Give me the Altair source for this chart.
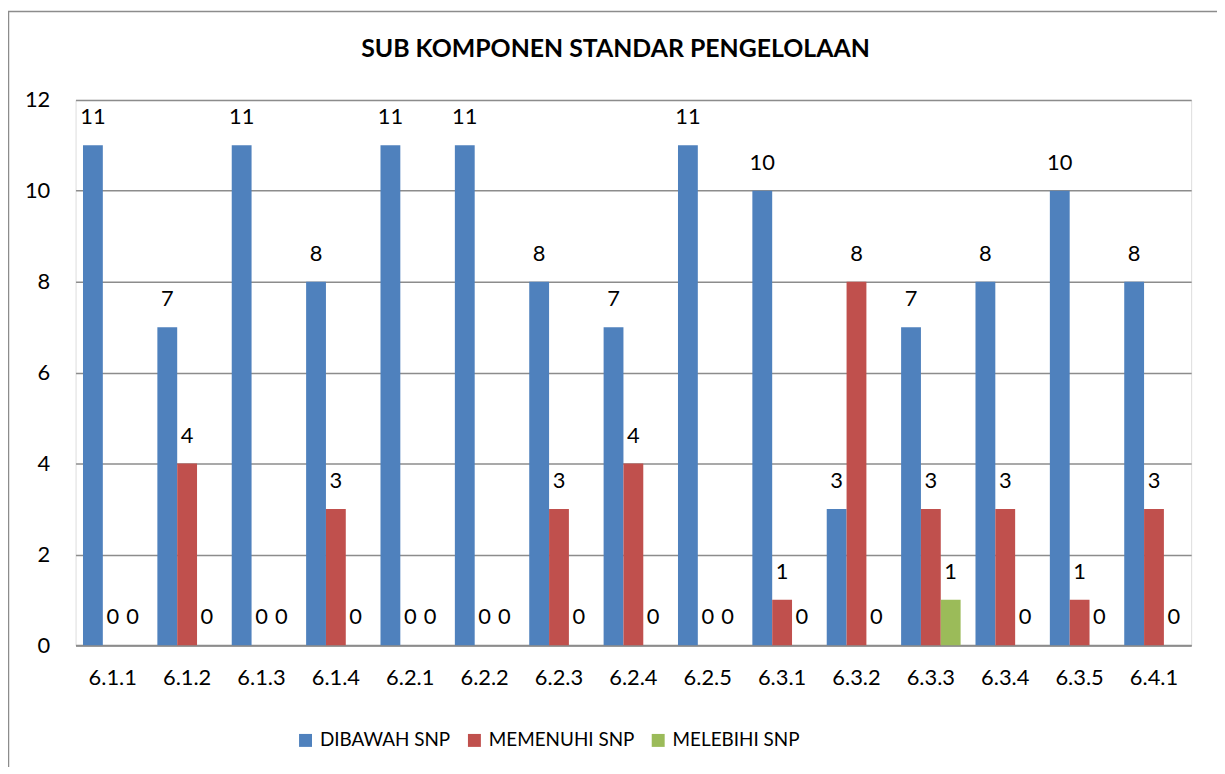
import altair as alt
import pandas as pd

categories = ["6.1.1", "6.1.2", "6.1.3", "6.1.4", "6.2.1", "6.2.2", "6.2.3", "6.2.4",
              "6.2.5", "6.3.1", "6.3.2", "6.3.3", "6.3.4", "6.3.5", "6.4.1"]
series = ["DIBAWAH SNP", "MEMENUHI SNP", "MELEBIHI SNP"]
dibawah = [11, 7, 11, 8, 11, 11, 8, 7, 11, 10, 3, 7, 8, 10, 8]
memenuhi = [0, 4, 0, 3, 0, 0, 3, 4, 0, 1, 8, 3, 3, 1, 3]
melebihi = [0, 0, 0, 0, 0, 0, 0, 0, 0, 0, 0, 1, 0, 0, 0]
colors = ["#4F81BD", "#C0504D", "#9BBB59"]
title_text = "SUB KOMPONEN STANDAR PENGELOLAAN"

rows = []
for s, vals in zip(series, [dibawah, memenuhi, melebihi]):
    for c, v in zip(categories, vals):
        rows.append({"cat": c, "series": s, "value": v})
df = pd.DataFrame(rows)
one = pd.DataFrame({"t": [title_text]})

FONT = "Lato"
FS = 22
W, H = 1123, 549

x = alt.X("cat:N", sort=categories, title=None,
          scale=alt.Scale(paddingInner=0.2, paddingOuter=0.1),
          axis=alt.Axis(labelAngle=0, labelFontSize=FS, labelPadding=22, ticks=False,
                        domainColor="#8c8c8c", domainWidth=2, labelColor="#000000",
                        labelFont=FONT))
y = alt.Y("value:Q", title=None,
          scale=alt.Scale(domain=[0, 12]),
          axis=alt.Axis(values=[0, 2, 4, 6, 8, 10, 12], labelFontSize=FS, labelPadding=26,
                        ticks=False, domain=False, gridColor="#8c8c8c", gridWidth=1.5,
                        labelColor="#000000", labelFont=FONT))
xo = alt.XOffset("series:N", sort=series, scale=alt.Scale(paddingInner=0))

bars = alt.Chart(df).mark_bar().encode(
    x=x, y=y, xOffset=xo,
    color=alt.Color("series:N", sort=series,
                    scale=alt.Scale(domain=series, range=colors),
                    legend=alt.Legend(title=None, orient="none", direction="horizontal",
                                      legendX=222, legendY=635, symbolType="square",
                                      symbolSize=170, symbolStrokeWidth=0,
                                      labelFontSize=19, labelFont=FONT, labelColor="#000000",
                                      labelLimit=0, columnPadding=14, labelOffset=5)),
)

labels = alt.Chart(df).mark_text(fontSize=FS, dy=-28, font=FONT, color="#000000").encode(
    x=alt.X("cat:N", sort=categories), y="value:Q", xOffset=xo, text="value:Q"
)

border = alt.Chart(one).mark_rect(fill=None, stroke="#8c8c8c", strokeWidth=1.5, clip=False).encode(
    x=alt.value(-67.5), x2=alt.value(W + 80), y=alt.value(-89), y2=alt.value(H + 250)
)

title = alt.Chart(one).mark_text(fontSize=25, font=FONT, fontWeight="bold", color="#000000",
                                 align="center", baseline="middle").encode(
    x=alt.value(W / 2 - 18), y=alt.value(-51), text="t:N"
)

chart = alt.layer(border, bars, labels, title).properties(
    width=W, height=H,
    padding={"left": 68, "top": 90, "right": 26, "bottom": 120},
).configure_view(stroke=None).configure(autosize="none")

chart.save("out.html", embed_options={"renderer": "svg", "actions": False})
